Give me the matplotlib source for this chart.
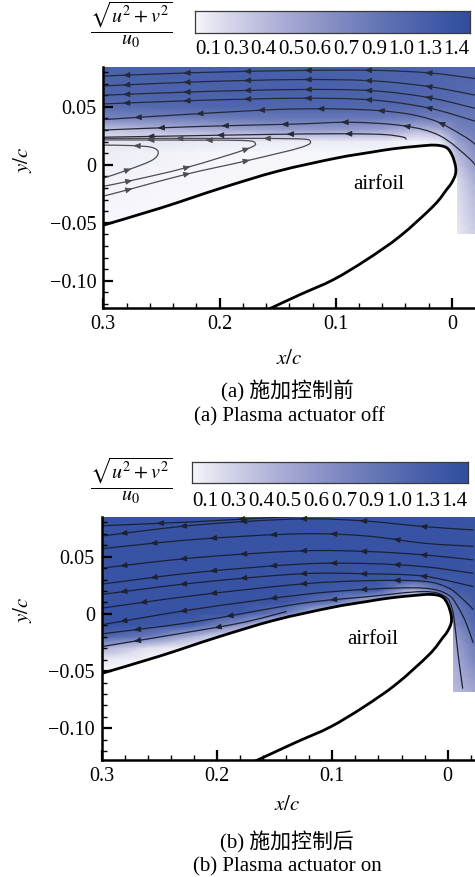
import numpy as np
import matplotlib
matplotlib.use("Agg")
import matplotlib.pyplot as plt
from matplotlib.path import Path
from matplotlib.patches import PathPatch
from matplotlib.colors import LinearSegmentedColormap, Normalize
from matplotlib.ticker import FixedLocator, FixedFormatter, MultipleLocator

plt.rcParams['font.family'] = ['Liberation Serif', 'Noto Sans CJK SC']
plt.rcParams['mathtext.fontset'] = 'stix'

# ---------------------------------------------------------------- data
cbar_levels = [0.1, 0.3, 0.4, 0.5, 0.6, 0.7, 0.9, 1.0, 1.3, 1.4]
cbar_labels = ['0.1', '0.3', '0.4', '0.5', '0.6', '0.7', '0.9', '1.0', '1.3', '1.4']
level_colors = ['#f6f6fb', '#d9d9ec', '#c0c1e0', '#a7aad4', '#9097c9', '#7a86c0',
                '#6576b6', '#5267ae', '#3f5aa8', '#324d9e']

x_ticks = [0.3, 0.2, 0.1, 0.0]
x_ticklabels = ['0.3', '0.2', '0.1', '0']
y_ticks = [0.05, 0.0, -0.05, -0.10]
y_ticklabels = ['0.05', '0', '\u22120.05', '\u22120.10']

# airfoil contour (upper surface from trailing side -> nose -> lower surface)
airfoil_x = [0.305, 0.25, 0.20, 0.15, 0.10, 0.07, 0.05, 0.03, 0.015, 0.005, 0.000,
             -0.003, -0.003, 0.000, 0.0044, 0.016, 0.0446, 0.0732, 0.1019, 0.1306, 0.159, 0.172]
airfoil_y = [-0.0535, -0.037, -0.0205, -0.0055, 0.0057, 0.0108, 0.0139, 0.0160, 0.0170, 0.0150,
             0.0085, -0.001, -0.008, -0.015, -0.021, -0.0355, -0.0614, -0.0816, -0.0989,
             -0.1118, -0.125, -0.131]
NOSE = 12

# measurement window strip below the nose: (left x, bottom y)
strip_a = (-0.004, -0.060)
strip_b = (-0.005, -0.068)

# velocity magnitude sqrt(u^2+v^2)/u0 read on a coarse grid
field_x = [0.30, 0.26, 0.22, 0.18, 0.14, 0.10, 0.06, 0.03, 0.01, -0.005, -0.025]
field_y = [0.09, 0.075, 0.06, 0.05, 0.04, 0.03, 0.02, 0.01, 0.00, -0.01, -0.02,
           -0.03, -0.04, -0.05, -0.06, -0.07]
speed_a = [
    [1.12, 1.14, 1.15, 1.15, 1.15, 1.15, 1.12, 1.10, 1.08, 1.05, 1.02],
    [1.10, 1.12, 1.14, 1.15, 1.15, 1.14, 1.10, 1.07, 1.05, 1.02, 1.00],
    [1.05, 1.08, 1.10, 1.12, 1.12, 1.10, 1.06, 1.02, 1.00, 0.98, 0.95],
    [0.95, 0.98, 1.02, 1.05, 1.05, 1.03, 1.00, 0.97, 0.95, 0.93, 0.92],
    [0.70, 0.75, 0.80, 0.85, 0.88, 0.88, 0.85, 0.82, 0.82, 0.85, 0.88],
    [0.38, 0.42, 0.48, 0.53, 0.57, 0.58, 0.55, 0.45, 0.50, 0.72, 0.85],
    [0.22, 0.22, 0.20, 0.18, 0.18, 0.18, 0.18, 0.12, 0.20, 0.55, 0.78],
    [0.16, 0.14, 0.12, 0.11, 0.10, 0.10, 0.10, 0.10, 0.12, 0.45, 0.72],
    [0.15, 0.13, 0.11, 0.10, 0.10, 0.10, 0.10, 0.10, 0.10, 0.38, 0.65],
    [0.14, 0.12, 0.10, 0.10, 0.10, 0.10, 0.10, 0.10, 0.10, 0.32, 0.58],
    [0.13, 0.11, 0.10, 0.10, 0.10, 0.10, 0.10, 0.10, 0.10, 0.28, 0.52],
    [0.12, 0.10, 0.10, 0.10, 0.10, 0.10, 0.10, 0.10, 0.10, 0.26, 0.48],
    [0.11, 0.10, 0.10, 0.10, 0.10, 0.10, 0.10, 0.10, 0.10, 0.25, 0.45],
    [0.10, 0.10, 0.10, 0.10, 0.10, 0.10, 0.10, 0.10, 0.10, 0.22, 0.42],
    [0.10, 0.10, 0.10, 0.10, 0.10, 0.10, 0.10, 0.10, 0.10, 0.20, 0.38],
    [0.10, 0.10, 0.10, 0.10, 0.10, 0.10, 0.10, 0.10, 0.10, 0.20, 0.35],
]
speed_b = [
    [1.35, 1.35, 1.35, 1.35, 1.35, 1.35, 1.35, 1.35, 1.35, 1.35, 1.34],
    [1.35, 1.35, 1.35, 1.35, 1.35, 1.35, 1.35, 1.35, 1.35, 1.35, 1.34],
    [1.35, 1.35, 1.35, 1.35, 1.35, 1.35, 1.35, 1.35, 1.35, 1.35, 1.34],
    [1.35, 1.35, 1.35, 1.35, 1.35, 1.35, 1.35, 1.35, 1.35, 1.35, 1.33],
    [1.35, 1.35, 1.35, 1.35, 1.35, 1.35, 1.35, 1.35, 1.35, 1.34, 1.33],
    [1.35, 1.35, 1.35, 1.35, 1.35, 1.35, 1.33, 1.25, 1.28, 1.30, 1.33],
    [1.35, 1.35, 1.35, 1.35, 1.35, 1.30, 1.15, 0.45, 0.85, 1.15, 1.30],
    [1.35, 1.35, 1.35, 1.35, 1.32, 0.90, 0.35, 0.20, 0.40, 0.90, 1.25],
    [1.35, 1.35, 1.35, 1.30, 0.80, 0.20, 0.15, 0.15, 0.30, 0.75, 1.15],
    [1.35, 1.33, 1.15, 0.60, 0.15, 0.10, 0.10, 0.10, 0.25, 0.65, 1.05],
    [1.10, 0.85, 0.45, 0.15, 0.10, 0.10, 0.10, 0.10, 0.20, 0.55, 0.95],
    [0.50, 0.25, 0.12, 0.10, 0.10, 0.10, 0.10, 0.10, 0.20, 0.50, 0.85],
    [0.20, 0.10, 0.10, 0.10, 0.10, 0.10, 0.10, 0.10, 0.20, 0.48, 0.75],
    [0.10, 0.10, 0.10, 0.10, 0.10, 0.10, 0.10, 0.10, 0.20, 0.45, 0.65],
    [0.10, 0.10, 0.10, 0.10, 0.10, 0.10, 0.10, 0.10, 0.20, 0.45, 0.58],
    [0.10, 0.10, 0.10, 0.10, 0.10, 0.10, 0.10, 0.10, 0.20, 0.42, 0.52],
]

# streamlines, listed in flow direction
st_x_a = [-0.022, 0.02, 0.07, 0.134, 0.22, 0.30]
lines_a = [
    (st_x_a, [0.0741, 0.0793, 0.0815, 0.0813, 0.0795, 0.0765]),
    (st_x_a, [0.0597, 0.0675, 0.0725, 0.0735, 0.0715, 0.0680]),
    (st_x_a, [0.0482, 0.0580, 0.0640, 0.0649, 0.0630, 0.0600]),
    (st_x_a, [0.0370, 0.0490, 0.0560, 0.0574, 0.0555, 0.0525]),
    ([-0.022, -0.0096, 0.019, 0.062, 0.134, 0.22, 0.30],
     [0.016, 0.0251, 0.0395, 0.0467, 0.0482, 0.0440, 0.0390]),
    ([-0.022, -0.0154, 0.0104, 0.042, 0.0876, 0.134, 0.22, 0.30],
     [-0.004, 0.005, 0.0251, 0.0337, 0.0367, 0.0352, 0.0330, 0.0300]),
    ([0.0395, 0.0425, 0.06, 0.10, 0.16, 0.23, 0.30],
     [0.0222, 0.0240, 0.0262, 0.0268, 0.0262, 0.0250, 0.0238]),
]
bubbles_a = [
    ([0.300, 0.277, 0.258, 0.2527, 0.258, 0.275, 0.300],
     [-0.0115, -0.0037, 0.004, 0.0105, 0.0150, 0.0166, 0.0170]),
    ([0.300, 0.277, 0.2283, 0.1767, 0.1695, 0.180, 0.22, 0.300],
     [-0.0185, -0.0138, -0.0023, 0.0136, 0.0190, 0.0210, 0.0213, 0.0215]),
    ([0.300, 0.277, 0.2283, 0.1767, 0.130, 0.122, 0.135, 0.20, 0.300],
     [-0.027, -0.021, -0.008, 0.0035, 0.0150, 0.0205, 0.0225, 0.0228, 0.0228]),
]
st_x_b = [-0.022, 0.021, 0.07, 0.128, 0.22, 0.30]
lines_b = [
    ([0.12, 0.16, 0.22, 0.30], [0.0855, 0.0838, 0.0805, 0.0770]),
    (st_x_b, [0.0734, 0.0763, 0.0810, 0.0830, 0.0775, 0.0680]),
    (st_x_b, [0.0590, 0.0618, 0.0680, 0.0700, 0.0650, 0.0570]),
    (st_x_b, [0.0472, 0.0516, 0.0545, 0.0550, 0.0490, 0.0400]),
    (st_x_b, [0.0355, 0.0413, 0.0440, 0.0435, 0.0360, 0.0260]),
    (st_x_b, [0.0239, 0.0330, 0.0350, 0.0350, 0.0270, 0.0170]),
    ([-0.022, -0.012, 0.000, 0.021, 0.07, 0.128, 0.22, 0.30],
     [0.004, 0.0140, 0.0230, 0.0285, 0.0290, 0.0260, 0.0160, 0.0050]),
    ([-0.022, -0.016, -0.009, 0.000, 0.021, 0.07, 0.128, 0.22, 0.30],
     [-0.025, -0.008, 0.006, 0.0170, 0.0225, 0.0215, 0.0166, 0.0040, -0.0095]),
    ([-0.013, -0.009, -0.0065, -0.004, 0.002, 0.021, 0.07, 0.128, 0.22, 0.30],
     [-0.065, -0.035, -0.012, 0.004, 0.0150, 0.0195, 0.0150, 0.0090, -0.0070, -0.0175]),
    ([0.14, 0.18, 0.24, 0.30], [0.002, -0.008, -0.0185, -0.0286]),
]

# ---------------------------------------------------------------- style / layout
W, H = 475, 877
fig = plt.figure(figsize=(W / 100, H / 100), dpi=100)

def rect(l, t, r, b):
    return [l / W, 1 - b / H, (r - l) / W, (b - t) / H]

def fpos(x, y):
    return x / W, 1 - y / H

norm = Normalize(vmin=cbar_levels[0], vmax=cbar_levels[-1])
pos = [(v - cbar_levels[0]) / (cbar_levels[-1] - cbar_levels[0]) for v in cbar_levels]
field_cmap = LinearSegmentedColormap.from_list('field', list(zip(pos, level_colors)))
bar_cmap = LinearSegmentedColormap.from_list('bar', level_colors)


def bez(xs, ys):
    p = np.column_stack([xs, ys]).astype(float)
    n = len(p)
    segs = []
    for i in range(n - 1):
        p0 = p[i - 1] if i > 0 else p[i]
        p1, p2 = p[i], p[i + 1]
        p3 = p[i + 2] if i + 2 < n else p[i + 1]
        segs.append((p1, p1 + (p2 - p0) / 6.0, p2 - (p3 - p1) / 6.0, p2))
    return segs


def seg_path(segs):
    verts = [segs[0][0]]
    codes = [Path.MOVETO]
    for s in segs:
        verts += [s[1], s[2], s[3]]
        codes += [Path.CURVE4] * 3
    return Path(verts, codes)


def bez_eval(q, t):
    pt = (1 - t) ** 3 * q[0] + 3 * (1 - t) ** 2 * t * q[1] + 3 * (1 - t) * t ** 2 * q[2] + t ** 3 * q[3]
    d = 3 * (1 - t) ** 2 * (q[1] - q[0]) + 6 * (1 - t) * t * (q[2] - q[1]) + 3 * t ** 2 * (q[3] - q[2])
    return pt, d / np.hypot(*d)


def arrow_at_x(ax, segs, xt, lo, hi, color):
    best = None
    tt = np.linspace(0, 1, 201)
    for k in range(lo, hi):
        q = segs[k]
        bx = ((1 - tt) ** 3 * q[0][0] + 3 * (1 - tt) ** 2 * tt * q[1][0]
              + 3 * (1 - tt) * tt ** 2 * q[2][0] + tt ** 3 * q[3][0])
        j = int(np.argmin(np.abs(bx - xt)))
        err = abs(bx[j] - xt)
        if best is None or err < best[0]:
            best = (err, k, tt[j])
    pt, d = bez_eval(segs[best[1]], best[2])
    ax.annotate('', xy=pt + d * 0.0022, xytext=pt - d * 0.0022,
                arrowprops=dict(arrowstyle='-|>,head_length=0.6,head_width=0.25',
                                mutation_scale=7, color=color, lw=0.6,
                                shrinkA=0, shrinkB=0),
                zorder=5, annotation_clip=True)


def draw_line(ax, xs, ys, arrows, color, lw, split=None):
    segs = bez(xs, ys)
    ax.add_patch(PathPatch(seg_path(segs), fill=False, edgecolor=color, lw=lw,
                           zorder=3, capstyle='round', joinstyle='round'))
    n = len(segs)
    if split is None:
        for xt in arrows:
            arrow_at_x(ax, segs, xt, 0, n, color)
    else:
        lower, upper = arrows
        for xt in lower:
            arrow_at_x(ax, segs, xt, 0, split, color)
        for xt in upper:
            arrow_at_x(ax, segs, xt, split, n, color)


cols1 = [0.021, 0.073, 0.125, 0.177, 0.229, 0.281]
cols2 = [0.010, 0.062, 0.114, 0.165, 0.218, 0.271]
arrows_a = [cols1, cols1, cols1, cols1, cols2, [0.040, 0.093, 0.145, 0.196, 0.251], [0.09, 0.14, 0.20, 0.26]]
bubble_arrows_a = [([0.278], [0.272]), ([0.277, 0.227, 0.176], [0.21, 0.26]),
                   ([0.277, 0.227, 0.176], [0.16, 0.235])]
bubble_split_a = [3, 4, 5]
colsb1 = [0.022, 0.074, 0.126, 0.178, 0.230, 0.282]
colsb2 = [0.045, 0.100, 0.152, 0.204, 0.256]
arrows_b = [[0.18, 0.25], colsb1, colsb2, colsb1, colsb2, colsb1,
            [0.045, 0.126, 0.204, 0.265], [0.074, 0.152, 0.230, 0.282], [0.10, 0.19, 0.27], [0.20, 0.27]]

panels = [
    dict(ax=rect(103.3, 66.7, 475, 308), xlim=(0.30, -0.0198), ylim=(-0.1234, 0.0846),
         cbar=rect(195, 11, 470, 33), cbar_lab_y=50, cbar_title=(131, 25),
         speed=speed_a, strip=strip_a, ylab=(23, 160), xlab=(289, 360),
         cap1=(287, 391), cap2=(289, 417), airfoil_txt=(0.063, -0.0167),
         cap1_text='(a) 施加控制前', cap2_text='(a) Plasma actuator off',
         lines=lines_a, arrows=arrows_a, bubbles=bubbles_a, line_color='#252a38',
         bubble_color='#4c4c52'),
    dict(ax=rect(101.7, 517.3, 475, 760), xlim=(0.30, -0.0237), ylim=(-0.1277, 0.0844),
         cbar=rect(191.7, 461.7, 468.3, 483.3), cbar_lab_y=501.5, cbar_title=(131, 481),
         speed=speed_b, strip=strip_b, ylab=(22, 610), xlab=(287, 806),
         cap1=(287, 842), cap2=(287, 867), airfoil_txt=(0.065, -0.0227),
         cap1_text='(b) 施加控制后', cap2_text='(b) Plasma actuator on',
         lines=lines_b, arrows=arrows_b, bubbles=[], line_color='#1c2133',
         bubble_color='#1c2133'),
]

FS = 15

for P in panels:
    ax = fig.add_axes(P['ax'])
    ax.set_xlim(*P['xlim'])
    ax.set_ylim(*P['ylim'])
    ax.set_facecolor('white')

    # velocity field
    X, Y = np.meshgrid(field_x, field_y)
    mesh = ax.pcolormesh(X, Y, np.array(P['speed']), shading='gouraud',
                         cmap=field_cmap, norm=norm, zorder=1)
    nose_n = NOSE + 1
    up = bez(airfoil_x[:nose_n], airfoil_y[:nose_n])
    verts = [(0.34, 0.10), (0.34, airfoil_y[0]), tuple(up[0][0])]
    codes = [Path.MOVETO, Path.LINETO, Path.LINETO]
    for s in up:
        verts += [tuple(s[1]), tuple(s[2]), tuple(s[3])]
        codes += [Path.CURVE4] * 3
    sl, sb = P['strip']
    verts += [(sl, airfoil_y[NOSE]), (sl, sb), (-0.05, sb), (-0.05, 0.10), (0.34, 0.10)]
    codes += [Path.LINETO] * 4 + [Path.CLOSEPOLY]
    mesh.set_clip_path(Path(verts, codes), ax.transData)

    # streamlines
    for (xs, ys), arr in zip(P['lines'], P['arrows']):
        draw_line(ax, xs, ys, arr, P['line_color'], 0.9)
    for (xs, ys), arr, sp in zip(P['bubbles'], bubble_arrows_a, bubble_split_a):
        draw_line(ax, xs, ys, arr, P['bubble_color'], 0.9, split=sp)

    # airfoil
    ax.add_patch(PathPatch(seg_path(bez(airfoil_x, airfoil_y)), fill=False,
                           edgecolor='black', lw=2.0, zorder=4, joinstyle='round'))
    ax.text(*P['airfoil_txt'], 'airfoil', fontsize=FS, ha='center', va='center', zorder=6)

    # axes cosmetics
    for side in ('top', 'right'):
        ax.spines[side].set_visible(False)
    for side in ('left', 'bottom'):
        ax.spines[side].set_linewidth(1.8)
        ax.spines[side].set_zorder(7)
    ax.xaxis.set_major_locator(FixedLocator(x_ticks))
    ax.xaxis.set_major_formatter(FixedFormatter(x_ticklabels))
    ax.yaxis.set_major_locator(FixedLocator(y_ticks))
    ax.yaxis.set_major_formatter(FixedFormatter(y_ticklabels))
    ax.xaxis.set_minor_locator(MultipleLocator(0.02))
    ax.yaxis.set_minor_locator(MultipleLocator(0.01))
    ax.tick_params(which='major', direction='in', length=7, width=1.6,
                   labelsize=14.5, pad=5)
    ax.tick_params(which='minor', direction='in', length=3.5, width=1.0)
    ax.tick_params(which='both', top=False, right=False)

    # colour bar
    cax = fig.add_axes(P['cbar'])
    cax.imshow(np.linspace(0, 1, 256)[None, :], cmap=bar_cmap, aspect='auto',
               extent=[0, 1, 0, 1], interpolation='bilinear')
    cax.set_xticks([])
    cax.set_yticks([])
    for sp in cax.spines.values():
        sp.set_linewidth(0.9)
        sp.set_edgecolor('#3a3a3a')
    bb = P['cbar']
    bar_bottom_px = H * (1 - bb[1])
    bar_h_px = bb[3] * H
    for k, lab in enumerate(cbar_labels):
        cax.text((k + 0.5) / len(cbar_labels),
                 -(P['cbar_lab_y'] - bar_bottom_px) / bar_h_px, lab,
                 transform=cax.transAxes, ha='center', va='center', fontsize=15)
    fig.text(*fpos(*P['cbar_title']), r'$\dfrac{\sqrt{u^2+v^2}}{u_0}$',
             ha='center', va='center', fontsize=14.5)

    # labels and captions
    fig.text(*fpos(*P['ylab']), r'$y/c$', rotation=90, ha='center', va='center', fontsize=FS)
    fig.text(*fpos(*P['xlab']), r'$x/c$', ha='center', va='center', fontsize=FS)
    fig.text(*fpos(*P['cap1']), P['cap1_text'], ha='center', va='center', fontsize=FS)
    fig.text(*fpos(*P['cap2']), P['cap2_text'], ha='center', va='center', fontsize=FS)

fig.savefig('out.png', dpi=100)
